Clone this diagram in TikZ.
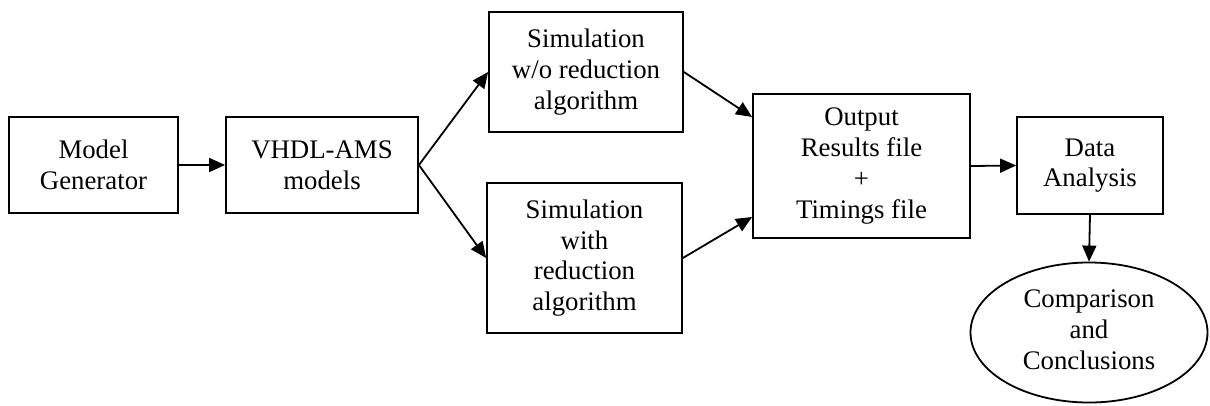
\documentclass[tikz,border=0pt]{standalone}
\usepackage{fontspec}
\setmainfont{Liberation Serif}
\usetikzlibrary{shapes.geometric,arrows.meta}
\begin{document}
\begin{tikzpicture}[x=1pt,y=-1pt,
  every node/.style={font=\fontsize{26.8}{30.7}\selectfont, align=center, inner sep=0pt},
  blk/.style={draw, line width=1.8pt, rectangle},
  oval/.style={draw, line width=1.8pt, ellipse},
  arr/.style={line width=1.8pt, -{Triangle[length=16pt,width=14pt]}}]
\useasboundingbox (0,0) rectangle (1210,405);
\node[blk, minimum width=169pt, minimum height=96pt] (mg) at (93.5,165) {Model\\Generator};
\node[blk, minimum width=192pt, minimum height=96pt] (vh) at (322,165) {VHDL-AMS\\models};
\node[blk, minimum width=194pt, minimum height=120pt] (s1) at (586,72) {Simulation\\w/o reduction\\algorithm};
\node[blk, minimum width=195pt, minimum height=150pt] (s2) at (584.5,258) {Simulation\\with\\reduction\\algorithm};
\node[blk, minimum width=217pt, minimum height=144pt] (out) at (861.5,166) {Output\\Results file\\+\\Timings file};
\node[blk, minimum width=146pt, minimum height=97pt] (da) at (1090,165.5) {Data\\Analysis};
\node[oval, minimum width=237pt, minimum height=140pt] (cc) at (1089,332.5) {\raisebox{-4pt}{\begin{tabular}{@{}c@{}}Comparison\\and\\Conclusions\end{tabular}}};
\draw[arr] (mg.east) -- (vh.west);
\draw[arr] (vh.east) -- (s1.west);
\draw[arr] (vh.east) -- (s2.west);
\draw[arr] (s1.east) -- ([yshift=49pt]out.west);
\draw[arr] (s2.east) -- ([yshift=-51pt]out.west);
\draw[arr] (out.east) -- (da.west);
\draw[arr] (da.south) -- (cc.north);
\end{tikzpicture}
\end{document}
